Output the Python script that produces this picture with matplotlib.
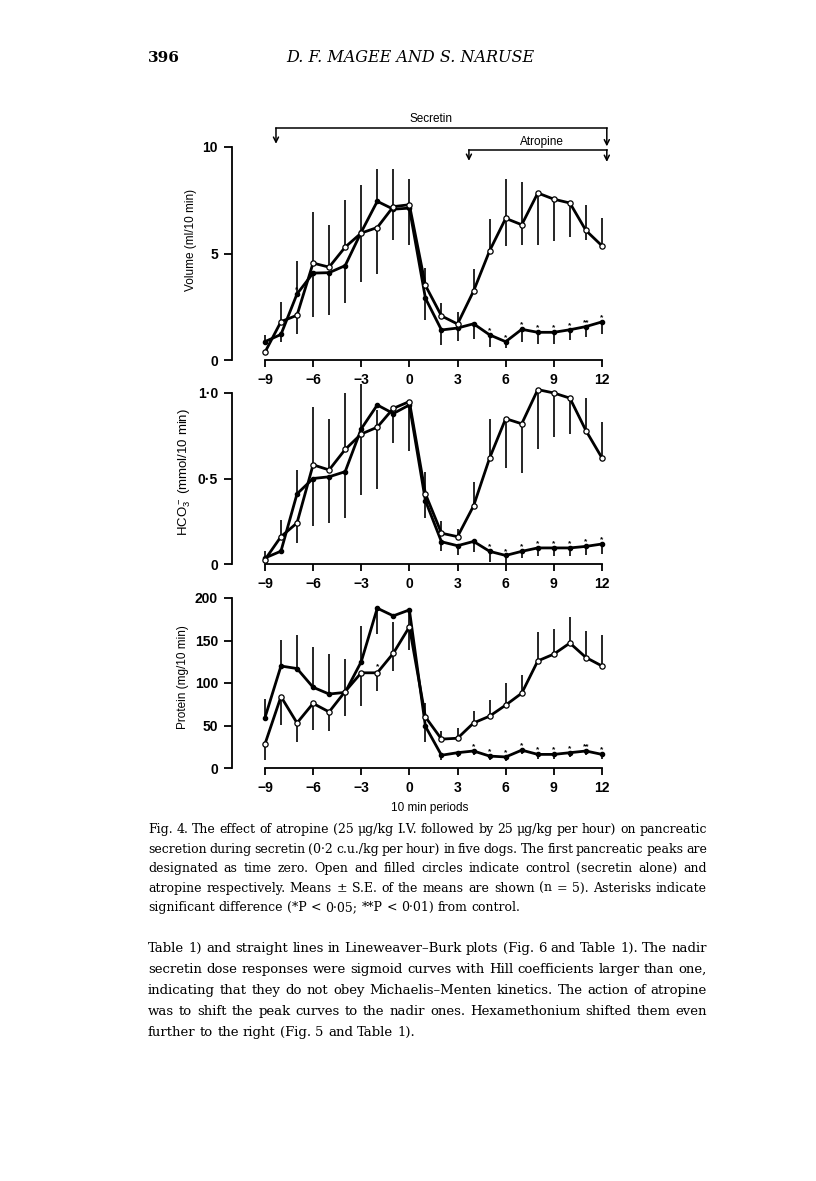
import numpy as np
import matplotlib.pyplot as plt

plt.rcParams['font.family'] = ['Liberation Sans', 'DejaVu Sans']
plt.rcParams['mathtext.fontset'] = 'custom'
plt.rcParams['mathtext.rm'] = 'Liberation Sans'
plt.rcParams['mathtext.it'] = 'Liberation Sans:italic'

# 10 min periods, first pancreatic peak = 0
periods = np.arange(-9, 13)
xticks = [-9, -6, -3, 0, 3, 6, 9, 12]
xtick_labels = ['\u22129', '\u22126', '\u22123', '0', '3', '6', '9', '12']

# volume (ml/10 min): control (open) and atropine (filled), one-sided S.E. bars
vol_ctrl = [0.36, 1.8, 2.1, 4.55, 4.36, 5.3, 5.96, 6.22, 7.2, 7.29, 3.5,
            2.07, 1.69, 3.24, 5.13, 6.65, 6.35, 7.84, 7.55, 7.37, 6.08, 5.36]
vol_atro = [0.86, 1.2, 3.1, 4.08, 4.1, 4.43, 6.0, 7.45, 7.08, 7.13, 2.9,
            1.41, 1.5, 1.7, 1.18, 0.86, 1.44, 1.3, 1.3, 1.42, 1.57, 1.79]
vol_ctrl_up = [0, 0.94, 0, 2.38, 2.0, 2.2, 0, 0, 0, 0, 0.84,
               0.59, 0.55, 1.04, 1.5, 1.86, 2.0, 0, 0, 0, 1.2, 1.3]
vol_ctrl_dn = [0.12, 0, 0.9, 0, 0, 0, 2.28, 2.19, 1.56, 1.91, 0,
               0, 0, 0, 0, 1.32, 0.95, 2.44, 1.95, 1.6, 0.45, 0]
vol_atro_up = [0.32, 0, 1.57, 0, 0, 0, 2.23, 1.53, 1.9, 1.38, 0,
               0, 0, 0, 0, 0, 0, 0, 0, 0, 0, 0]
vol_atro_dn = [0, 0.34, 0, 2.04, 1.98, 1.77, 0, 0, 0, 0, 1.02,
               0.71, 0.6, 0.72, 0.55, 0.3, 0.6, 0.55, 0.55, 0.5, 0.5, 0.55]
vol_star_x = [-7, 5, 6, 7, 8, 9, 10, 11, 12]
vol_star = ['*', '*', '*', '*', '*', '*', '*', '**', '*']

# HCO3- (mmol/10 min)
hco_ctrl = [0.025, 0.16, 0.24, 0.58, 0.55, 0.67, 0.76, 0.80, 0.91, 0.95, 0.41,
            0.18, 0.16, 0.34, 0.62, 0.85, 0.82, 1.02, 1.0, 0.97, 0.78, 0.62]
hco_atro = [0.035, 0.075, 0.41, 0.50, 0.51, 0.54, 0.79, 0.93, 0.88, 0.93, 0.37,
            0.13, 0.107, 0.132, 0.074, 0.05, 0.074, 0.094, 0.094, 0.094, 0.103, 0.117]
hco_ctrl_up = [0, 0.1, 0, 0.34, 0.3, 0.33, 0, 0.1, 0, 0, 0.13,
               0.07, 0.045, 0.14, 0.23, 0, 0, 0, 0, 0, 0.19, 0.21]
hco_ctrl_dn = [0.02, 0, 0.12, 0, 0, 0, 0.355, 0.36, 0.2, 0, 0,
               0, 0, 0, 0, 0.29, 0.29, 0.35, 0.26, 0.21, 0, 0]
hco_atro_up = [0.04, 0, 0.14, 0, 0, 0, 0.26, 0, 0, 0, 0,
               0, 0, 0, 0, 0, 0, 0, 0, 0, 0, 0]
hco_atro_dn = [0, 0.01, 0, 0.28, 0.27, 0.27, 0, 0, 0, 0.27, 0.1,
               0.056, 0.055, 0.06, 0.06, 0.05, 0.04, 0.05, 0.05, 0.05, 0.05, 0.06]
hco_star_x = [5, 6, 7, 8, 9, 10, 11, 12]
hco_star = ['*', '*', '*', '*', '*', '*', '*', '*']

# protein (mg/10 min)
pro_ctrl = [28, 84, 53, 76, 66, 90, 112, 112, 135, 166, 60,
            34, 35, 53, 61, 74, 88, 126, 134, 147, 130, 120]
pro_atro = [59, 120, 117, 95, 87, 89, 125, 188, 179, 186, 49,
            15, 18, 20, 14, 13, 21, 16, 16, 18, 20, 16]
pro_ctrl_up = [0, 0, 0, 0, 0, 0, 0, 0, 37, 0, 16,
               9, 12, 14, 19, 26, 22, 34, 30, 31, 31, 36]
pro_ctrl_dn = [18, 33, 22, 31, 22, 29, 39, 21, 21, 0, 0,
               0, 0, 0, 0, 0, 0, 0, 0, 0, 0, 0]
pro_atro_up = [22, 31, 39, 47, 47, 39, 42, 0, 0, 0, 0,
               0, 0, 0, 0, 0, 0, 0, 0, 0, 0, 0]
pro_atro_dn = [0, 0, 0, 0, 0, 0, 0, 30, 0, 47, 18,
               5, 5, 5, 5, 5, 5, 5, 5, 5, 5, 5]
pro_star_x = [4, 5, 6, 7, 8, 9, 10, 11, 12]
pro_star = ['*', '*', '*', '*', '*', '*', '*', '**', '*']
pro_ctrl_star_x = [-2]

caption = [
    "Fig. 4. The effect of atropine (25 \u03bcg/kg I.V. followed by 25 \u03bcg/kg per hour) on pancreatic",
    "secretion during secretin (0\u00b72 c.u./kg per hour) in five dogs. The first pancreatic peaks are",
    "designated as time zero. Open and filled circles indicate control (secretin alone) and",
    "atropine respectively. Means \u00b1 S.E. of the means are shown (n = 5). Asterisks indicate",
    "significant difference (*P < 0\u00b705; **P < 0\u00b701) from control.",
]
body = [
    "Table 1) and straight lines in Lineweaver\u2013Burk plots (Fig. 6 and Table 1). The nadir",
    "secretin dose responses were sigmoid curves with Hill coefficients larger than one,",
    "indicating that they do not obey Michaelis\u2013Menten kinetics. The action of atropine",
    "was to shift the peak curves to the nadir ones. Hexamethonium shifted them even",
    "further to the right (Fig. 5 and Table 1).",
]

W, H = 816, 1181
fig = plt.figure(figsize=(W / 100, H / 100), dpi=100)
fig.patch.set_facecolor('white')
serif = ['DejaVu Serif']


def add_axes_px(left, right, y0, ytop):
    return fig.add_axes([left / W, 1 - y0 / H, (right - left) / W, (y0 - ytop) / H])


def draw_panel(ax, ctrl, atro, c_up, c_dn, a_up, a_dn, top, yt, ytl):
    ax.errorbar(periods, ctrl, yerr=[c_dn, c_up], fmt='none', ecolor='k',
                elinewidth=1.2, capsize=0, clip_on=False)
    ax.errorbar(periods, atro, yerr=[a_dn, a_up], fmt='none', ecolor='k',
                elinewidth=1.2, capsize=0, clip_on=False)
    ax.plot(periods, atro, '-o', color='k', lw=2.0, ms=3, mfc='k', mec='k',
            zorder=3, clip_on=False)
    ax.plot(periods, ctrl, '-', color='k', lw=2.0, zorder=3, clip_on=False)
    ax.plot(periods, ctrl, 'o', ls='none', ms=3.8, mfc='white', mec='k', mew=0.9,
            zorder=4, clip_on=False)
    ax.set_xlim(-11.05, 12)
    ax.set_ylim(0, top)
    for s in ['top', 'right']:
        ax.spines[s].set_visible(False)
    ax.spines['bottom'].set_bounds(-9, 12)
    ax.spines['left'].set_bounds(0, top)
    for s in ['bottom', 'left']:
        ax.spines[s].set_linewidth(1.3)
    ax.set_xticks(xticks)
    ax.set_xticklabels(xtick_labels, fontsize=10, fontweight='bold')
    ax.set_yticks(yt)
    ax.set_yticklabels(ytl, fontsize=10, fontweight='bold')
    ax.tick_params(axis='x', direction='out', length=5, width=1.3, pad=4)
    ax.tick_params(axis='y', direction='out', length=6, width=1.3, pad=4)
    ax.patch.set_alpha(0)


def stars(ax, xs, labels, series, dy):
    for x, lbl in zip(xs, labels):
        y = series[list(periods).index(x)]
        ax.annotate(lbl, (x, y), xytext=(0, dy), textcoords='offset points',
                    ha='center', va='bottom', fontsize=6, fontweight='bold',
                    annotation_clip=False)


# panel 1: volume
ax1 = add_axes_px(232, 602, 360, 147)
draw_panel(ax1, vol_ctrl, vol_atro, vol_ctrl_up, vol_ctrl_dn, vol_atro_up, vol_atro_dn,
           10, [0, 5, 10], ['0', '5', '10'])
stars(ax1, vol_star_x, vol_star, vol_atro, 0.5)

# secretin / atropine brackets
ax1.plot([-8.31, 12.3], [10.89, 10.89], color='k', lw=1.1, clip_on=False)
ax1.plot([3.71, 12.3], [9.87, 9.87], color='k', lw=1.1, clip_on=False)
for x, y0, y1 in [(-8.31, 10.89, 10.15), (12.3, 10.89, 10.03),
                  (3.71, 9.87, 9.35), (12.3, 9.87, 9.3)]:
    ax1.annotate('', xy=(x, y1), xytext=(x, y0),
                 arrowprops=dict(arrowstyle='->', lw=1.1, color='k',
                                 mutation_scale=9, shrinkA=0, shrinkB=0),
                 annotation_clip=False)
ax1.text(1.32, 11.32, 'Secretin', ha='center', va='center', fontsize=8.5)
ax1.text(8.26, 10.22, 'Atropine', ha='center', va='center', fontsize=8.5)

# panel 2: bicarbonate
ax2 = add_axes_px(232, 602, 564, 393)
draw_panel(ax2, hco_ctrl, hco_atro, hco_ctrl_up, hco_ctrl_dn, hco_atro_up, hco_atro_dn,
           1.0, [0, 0.5, 1.0], ['0', '0\u00b75', '1\u00b70'])
stars(ax2, hco_star_x, hco_star, hco_atro, 0.5)

# panel 3: protein
ax3 = add_axes_px(232, 602, 768, 598)
draw_panel(ax3, pro_ctrl, pro_atro, pro_ctrl_up, pro_ctrl_dn, pro_atro_up, pro_atro_dn,
           200, [0, 50, 100, 150, 200], ['0', '50', '100', '150', '200'])
stars(ax3, pro_star_x, pro_star, pro_atro, 0.5)
stars(ax3, pro_ctrl_star_x, ['*'], pro_ctrl, 1.5)

# y labels
fig.text(191 / W, 1 - 240 / H, 'Volume (ml/10 min)', rotation=90, ha='center', va='center', fontsize=8.5)
fig.text(185 / W, 1 - 472 / H, 'HCO$_3^-$ (mmol/10 min)', rotation=90, ha='center', va='center', fontsize=9.5)
fig.text(183 / W, 1 - 677 / H, 'Protein (mg/10 min)', rotation=90, ha='center', va='center', fontsize=8.5)
fig.text(430 / W, 1 - 808 / H, '10 min periods', ha='center', va='center', fontsize=8.5)

# page header
fig.text(148 / W, 1 - 62 / H, '396', ha='left', va='baseline', fontsize=11,
         family=serif, fontweight='bold')
fig.text(410 / W, 1 - 62 / H, 'D. F. MAGEE AND S. NARUSE', ha='center', va='baseline',
         fontsize=11.5, family=serif, style='italic')

renderer = fig.canvas.get_renderer()


def text_width(s, size):
    t = fig.text(0, 0, s, fontsize=size, family=serif)
    w = t.get_window_extent(renderer).width
    t.remove()
    return w


def justify(lines, y_first, step, base, x0=148, x1=707):
    # size chosen so the full lines fill the measure with about normal spacing
    natural = np.mean([text_width(line, base) for line in lines[:-1]])
    size = base * (x1 - x0) / natural
    space = text_width('a a', size) - 2 * text_width('a', size)
    for i, line in enumerate(lines):
        y = 1 - (y_first + i * step) / H
        words = line.split(' ')
        ts = [fig.text(0, y, w, fontsize=size, family=serif, va='baseline') for w in words]
        widths = [t.get_window_extent(renderer).width for t in ts]
        if i < len(lines) - 1:
            gap = (x1 - x0 - sum(widths)) / (len(words) - 1)
        else:
            gap = space
        x = x0
        for t, w in zip(ts, widths):
            t.set_x(x / W)
            x += w + gap


justify(caption, 833, 19.6, 9.5)
justify(body, 952, 21, 10.5)

fig.savefig('out.png', dpi=100, facecolor='white')
